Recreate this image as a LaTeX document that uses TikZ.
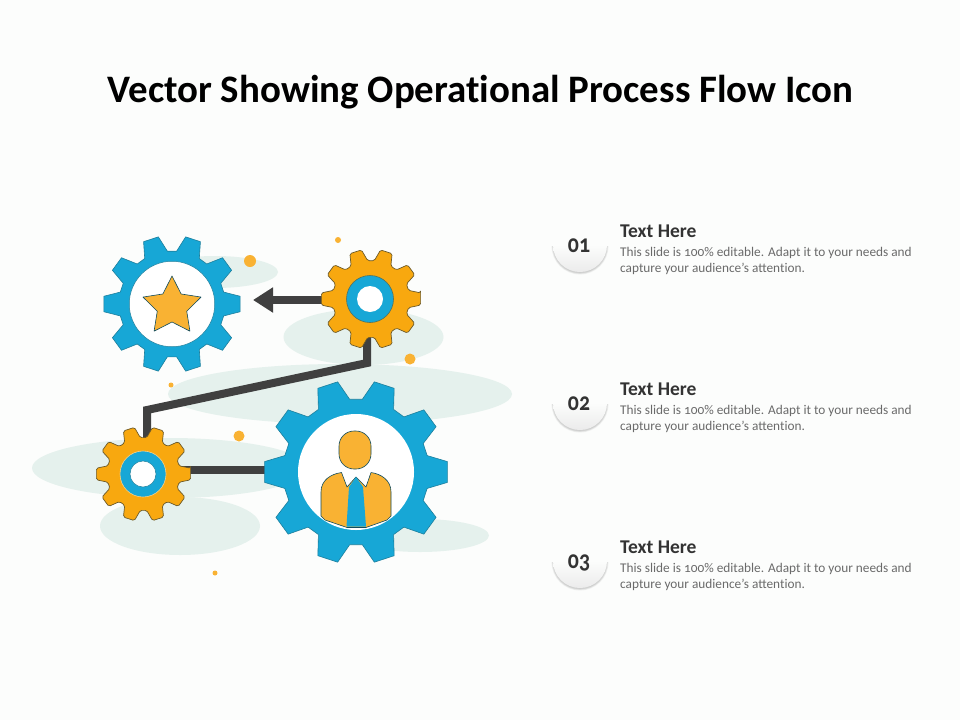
\documentclass[tikz,border=0pt]{standalone}
\usepackage{fontspec}
\setmainfont{Carlito}[Numbers=OldStyle]
\usetikzlibrary{arrows.meta,shapes.geometric}
\definecolor{pagebg}{HTML}{FCFDFC}
\definecolor{blobc}{HTML}{E5F1ED}
\definecolor{gblue}{HTML}{17A7D6}
\definecolor{gorange}{HTML}{F8A80F}
\definecolor{dotc}{HTML}{F9B233}
\definecolor{linkc}{HTML}{404040}
\definecolor{edgeblue}{HTML}{1D7F9C}
\definecolor{edgeorange}{HTML}{6B5A2A}
\definecolor{titlec}{HTML}{333333}
\definecolor{bodyc}{HTML}{6A6A6A}
\definecolor{discc}{HTML}{EBEBEB}
\newcommand{\noti}{\kern0pt }
\tikzset{
  blob/.style={fill=blobc,draw=none},
  spot/.style={circle,fill=dotc,draw=none,inner sep=0pt},
  link/.style={draw=linkc,line width=8pt,line join=miter},
  bluegear/.style={fill=gblue,draw=edgeblue,line width=0.6pt,line join=round},
  orangegear/.style={fill=gorange,draw=edgeorange,line width=0.7pt,rounded corners=1.6pt},
  hole/.style={circle,fill=white,draw=edgeblue,line width=0.5pt,inner sep=0pt},
  ring/.style={circle,fill=gblue,draw=edgeorange!70!gblue,line width=0.6pt,inner sep=0pt},
  goldpart/.style={fill=dotc,draw=edgeblue!60!black,line width=0.6pt,line join=round},
  headtext/.style={anchor=base west,inner sep=0pt,font=\fontsize{19.5}{19.5}\selectfont\bfseries,text=titlec},
  bodytext/.style={anchor=base west,inner sep=0pt,font=\fontsize{13.3}{13.3}\selectfont,text=bodyc},
  numdisc/.style={circle,minimum size=54pt,inner sep=0pt,draw=none,top color=pagebg,bottom color=discc,middle color=pagebg,shading angle=0},
  numtext/.style={font=\fontsize{23}{23}\selectfont\bfseries,text=titlec,inner sep=0pt},
}
\newcommand{\gearshape}[5]{%
  \begin{scope}[shift={#2}]
  \path[#1] (-#5:#3)
    \foreach \a in {0,36,...,324}{
      -- ({\a-#5}:#3) -- ({\a+#5}:#3) -- ({\a+13}:#4) -- ({\a+23}:#4)
    } -- cycle;
  \end{scope}}
\newcommand{\numbered}[3]{%
  \foreach \k in {1,...,6}{
    \fill[black,opacity=0.03] (580,#1) ++(-26.5-\k*0.35,0) arc[start angle=180,end angle=0,radius=26.5+\k*0.35] -- cycle;
  }
  \node[numdisc] (#2) at (580,#1-1) {};
  \node[numtext,anchor=base] (#2t) at (579,#1+6.5) {\scalebox{0.95}[1.1]{#3}};
  \node[headtext] (#2h) at (620,#1-8.5) {Text Here};
  \node[bodytext] (#2a) at (620,#1+10.5) {This slide is 100\% editable. Adapt it to your needs and};
  \node[bodytext] (#2b) at (620,#1+26.5) {capture your audience's attent\noti ion.};
}
\begin{document}
\begin{tikzpicture}[x=1pt,y=-1pt]
\useasboundingbox (0,0) rectangle (960,720);
\fill[pagebg] (0,0) rectangle (960,720);
\node[inner sep=0pt,font=\fontsize{38.9}{38.9}\selectfont\bfseries,text=black] (title) at (480.5,92) {Vector Showing Operat\noti ional Process Flow Icon};

% background blobs
\fill[blob] (215,272) ellipse [x radius=63,y radius=16];
\fill[blob] (363.5,337) ellipse [x radius=80,y radius=28];
\fill[blob] (340,394) ellipse [x radius=172,y radius=30];
\fill[blob] (170,468) ellipse [x radius=138,y radius=30];
\fill[blob] (180,526) ellipse [x radius=80,y radius=29];
\fill[blob] (420,535.5) ellipse [x radius=69,y radius=16.5];

% dots
\node[spot,minimum size=12pt] (d1) at (250,261) {};
\node[spot,minimum size=6pt] (d2) at (338,240) {};
\node[spot,minimum size=11pt] (d3) at (410,359) {};
\node[spot,minimum size=5pt] (d4) at (171,385) {};
\node[spot,minimum size=11pt] (d5) at (239,436) {};
\node[spot,minimum size=5pt] (d6) at (215,573) {};

% anchors of connectors
\coordinate (upO) at (371,300);
\coordinate (tip) at (253,300);
\coordinate (dropO) at (367,320);
\coordinate (bendA) at (367,363);
\coordinate (bendB) at (147,410);
\coordinate (dropL) at (147,460);
\coordinate (lowO) at (170,469.5);
\coordinate (bigG) at (300,469.5);

\draw[link,line width=7.5pt,-{Triangle[length=20pt,width=24pt]}] (upO) -- (tip);
\draw[link] (dropO) -- (bendA) -- (bendB) -- (dropL);
\draw[link] (lowO) -- (bigG);

% star gear
\gearshape{bluegear}{(172,304)}{68.5}{53}{6.5}
\node[circle,fill=white,draw=edgeblue,line width=0.5pt,minimum size=85.5pt,inner sep=0pt] (gearA) at (172,304) {};
\begin{scope}[shift={(172,306.5)}]
\path[goldpart] (-90:30.5)
  \foreach \a in {-54,18,90,162}{ -- (\a:15.5) -- ({\a+36}:30.5) } -- (234:15.5) -- cycle;
\end{scope}

% orange gear, upper
\gearshape{orangegear}{(371,299)}{50}{38.5}{7}
\node[ring,minimum size=47pt] (ringA) at (370,299) {};
\node[hole,minimum size=26pt,draw=none] (holeA) at (370,299) {};

% orange gear, lower
\gearshape{orangegear}{(143.5,474)}{47.5}{36.5}{7}
\node[ring,minimum size=46pt,draw=dotc!60!white] (ringB) at (143,474) {};
\node[hole,minimum size=26pt] (holeB) at (143,474) {};

% big gear
\gearshape{bluegear}{(356,472)}{92}{73}{6.5}
\node[circle,fill=white,draw=none,minimum size=116pt,inner sep=0pt] (gearB) at (356,472) {};

% person
\path[goldpart,rounded corners=15pt] (339,431) rectangle (371,469);
\begin{scope}
\clip (356,472) circle (58);
\path[goldpart] (347,527.5) -- (325,520) -- (321,516) -- (321,492) .. controls (321,480) and (331,474) .. (341.5,472.5) -- (347,487) -- (356,477) -- (366,487) -- (371,472.5) .. controls (381,474) and (391,480) .. (391,492) -- (391,516) -- (387,520) -- (366,527.5) -- cycle;
\fill[gblue] (356,477) -- (363,487) -- (366,526.5) -- (346.5,526.5) -- (349,487) -- cycle;
\end{scope}

% list
\numbered{246}{one}{01}
\numbered{404}{two}{02}
\numbered{562}{three}{03}
\end{tikzpicture}
\end{document}
